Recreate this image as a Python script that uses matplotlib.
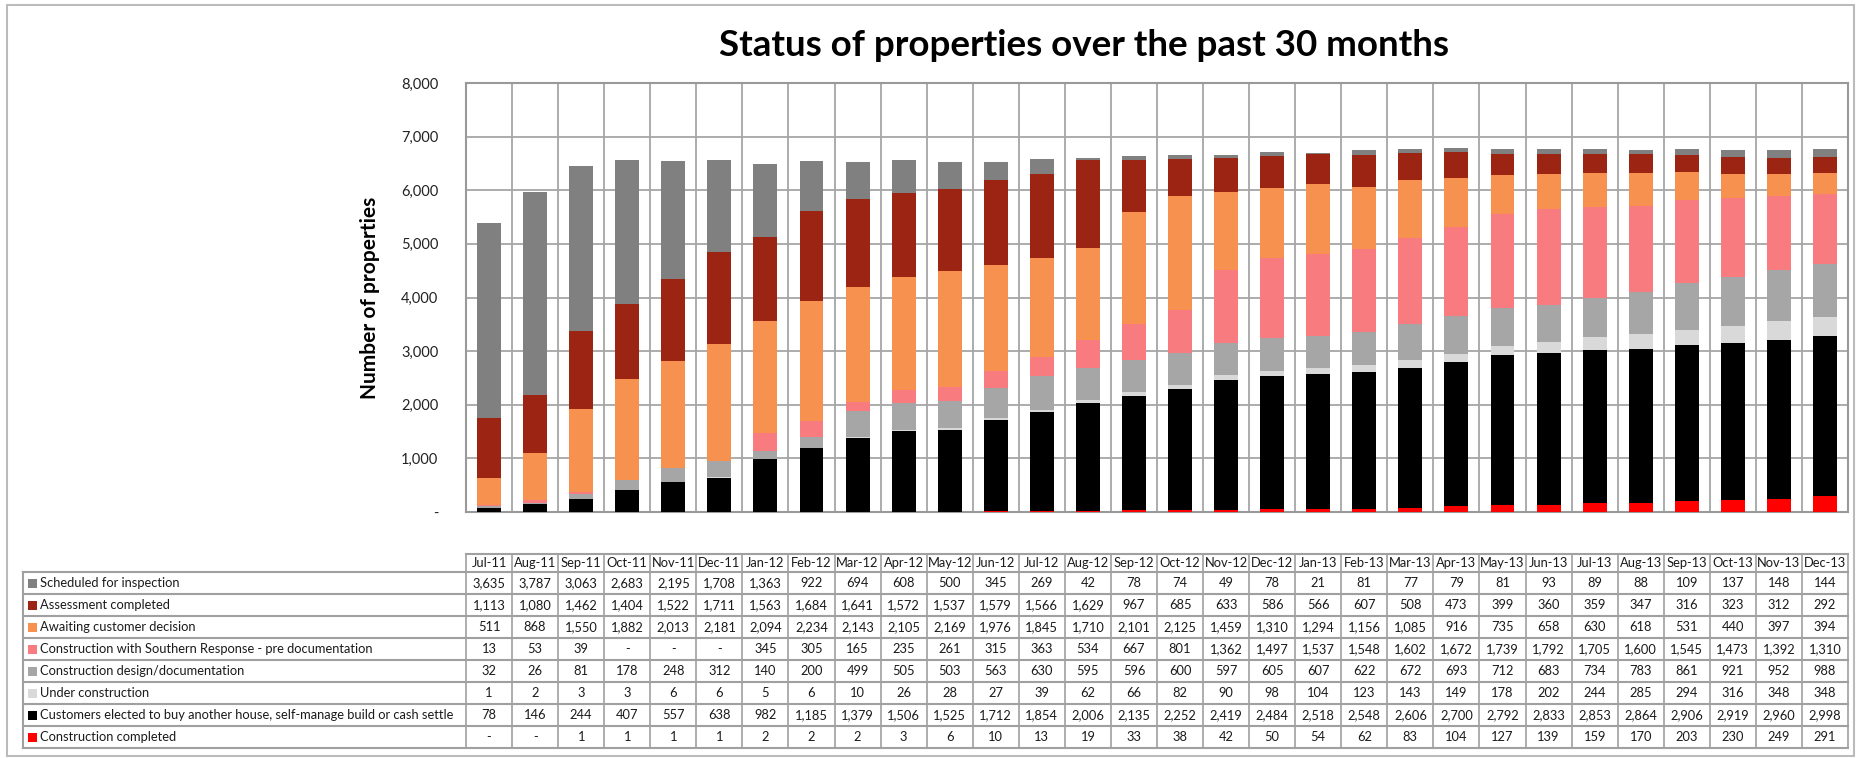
import numpy as np
import matplotlib
matplotlib.use('Agg')
import matplotlib.pyplot as plt
from matplotlib.patches import Rectangle
from matplotlib.ticker import FuncFormatter

months = ['Jul-11', 'Aug-11', 'Sep-11', 'Oct-11', 'Nov-11', 'Dec-11',
          'Jan-12', 'Feb-12', 'Mar-12', 'Apr-12', 'May-12', 'Jun-12',
          'Jul-12', 'Aug-12', 'Sep-12', 'Oct-12', 'Nov-12', 'Dec-12',
          'Jan-13', 'Feb-13', 'Mar-13', 'Apr-13', 'May-13', 'Jun-13',
          'Jul-13', 'Aug-13', 'Sep-13', 'Oct-13', 'Nov-13', 'Dec-13']

scheduled = [3635, 3787, 3063, 2683, 2195, 1708, 1363, 922, 694, 608, 500, 345, 269, 42, 78,
             74, 49, 78, 21, 81, 77, 79, 81, 93, 89, 88, 109, 137, 148, 144]
assessment = [1113, 1080, 1462, 1404, 1522, 1711, 1563, 1684, 1641, 1572, 1537, 1579, 1566, 1629, 967,
              685, 633, 586, 566, 607, 508, 473, 399, 360, 359, 347, 316, 323, 312, 292]
awaiting = [511, 868, 1550, 1882, 2013, 2181, 2094, 2234, 2143, 2105, 2169, 1976, 1845, 1710, 2101,
            2125, 1459, 1310, 1294, 1156, 1085, 916, 735, 658, 630, 618, 531, 440, 397, 394]
sr_pre = [13, 53, 39, 0, 0, 0, 345, 305, 165, 235, 261, 315, 363, 534, 667,
          801, 1362, 1497, 1537, 1548, 1602, 1672, 1739, 1792, 1705, 1600, 1545, 1473, 1392, 1310]
design = [32, 26, 81, 178, 248, 312, 140, 200, 499, 505, 503, 563, 630, 595, 596,
          600, 597, 605, 607, 622, 672, 693, 712, 683, 734, 783, 861, 921, 952, 988]
under = [1, 2, 3, 3, 6, 6, 5, 6, 10, 26, 28, 27, 39, 62, 66,
         82, 90, 98, 104, 123, 143, 149, 178, 202, 244, 285, 294, 316, 348, 348]
customers = [78, 146, 244, 407, 557, 638, 982, 1185, 1379, 1506, 1525, 1712, 1854, 2006, 2135,
             2252, 2419, 2484, 2518, 2548, 2606, 2700, 2792, 2833, 2853, 2864, 2906, 2919, 2960, 2998]
completed = [0, 0, 1, 1, 1, 1, 2, 2, 2, 3, 6, 10, 13, 19, 33,
             38, 42, 50, 54, 62, 83, 104, 127, 139, 159, 170, 203, 230, 249, 291]

# table order (top to bottom) and colours
series_names = ['Scheduled for inspection',
                'Assessment completed',
                'Awaiting customer decision',
                'Construction with Southern Response - pre documentation',
                'Construction design/documentation',
                'Under construction',
                'Customers elected to buy another house, self-manage build or cash settle',
                'Construction completed']
series_vals = [scheduled, assessment, awaiting, sr_pre, design, under, customers, completed]
series_cols = ['#808080', '#9C2412', '#F79150', '#F77B7F', '#A6A6A6', '#D9D9D9', '#000000', '#FF0000']

plt.rcParams['font.family'] = ['Lato', 'DejaVu Sans']

W, H = 1861, 758
fig = plt.figure(figsize=(W / 100, H / 100), dpi=100)

# pixel geometry of the plot area
PL, PR, PT, PB = 466, 1848, 83, 512
ax = fig.add_axes([PL / W, 1 - PB / H, (PR - PL) / W, (PB - PT) / H])

x = np.arange(len(months))
bottom = np.zeros(len(months))
# stack from the bottom: completed first, scheduled on top
for name, vals, col in reversed(list(zip(series_names, series_vals, series_cols))):
    ax.bar(x, vals, width=0.52, bottom=bottom, color=col, label=name, zorder=3)
    bottom += np.array(vals)

grid_col = '#A6A6A6'
ax.set_xlim(-0.5, len(months) - 0.5)
ax.set_ylim(0, 8000)
ax.set_yticks(range(0, 8001, 1000))
ax.yaxis.set_major_formatter(FuncFormatter(lambda v, p: '-' if v == 0 else f'{int(v):,}'))
ax.set_xticks(np.arange(len(months) + 1) - 0.5, minor=True)
ax.set_xticks([])
ax.grid(axis='y', color=grid_col, lw=1.3, zorder=0)
ax.grid(axis='x', which='minor', color=grid_col, lw=1.3, zorder=0)
ax.tick_params(axis='y', length=0, pad=20, labelsize=10.5, labelcolor='#222222')
ax.tick_params(axis='x', which='both', length=0)
for s in ax.spines.values():
    s.set_color('#999999')
    s.set_linewidth(1.5)
ax.set_ylabel('Number of properties', fontsize=15, fontweight='bold', labelpad=15)

fig.text(1084 / W, 1 - 46 / H, 'Status of properties over the past 30 months',
         ha='center', va='center', fontsize=26.5, fontweight='bold')

# --- data table drawn in pixel coordinates ---
tab = fig.add_axes([0, 0, 1, 1], zorder=-1)
tab.set_xlim(0, W)
tab.set_ylim(H, 0)
tab.axis('off')
tab.patch.set_alpha(0)

# outer chart border
tab.add_patch(Rectangle((7, 5), 1847, 751, fill=False, ec='#BBBBBB', lw=1.5))

line_col = '#A0A0A0'
head_top, head_bot = 554, 572
row_h = 22.0
n_rows = len(series_names)
col_w = (PR - PL) / len(months)
lab_left = 23
fs = 9.3

tab_bot = head_bot + n_rows * row_h
# header row
tab.plot([PL, PR], [head_top, head_top], color=line_col, lw=1.5)
for i in range(len(months) + 1):
    cx = PL + i * col_w
    tab.plot([cx, cx], [head_top, tab_bot], color=line_col, lw=1.2)
for i, m in enumerate(months):
    tab.text(PL + (i + 0.5) * col_w, (head_top + head_bot) / 2, m,
             ha='center', va='center', fontsize=fs, color='#1a1a1a')
# body rows
for r in range(n_rows + 1):
    yy = head_bot + r * row_h
    tab.plot([lab_left, PR], [yy, yy], color=line_col, lw=1.5)
tab.plot([lab_left, lab_left], [head_bot, tab_bot], color=line_col, lw=1.5)
for r, (name, vals, col) in enumerate(zip(series_names, series_vals, series_cols)):
    yc = head_bot + (r + 0.5) * row_h
    tab.add_patch(Rectangle((lab_left + 5, yc - 4.5), 9, 9, color=col, lw=0))
    tab.text(lab_left + 17, yc, name, ha='left', va='center', fontsize=fs, color='#1a1a1a')
    for i, v in enumerate(vals):
        tab.text(PL + (i + 0.5) * col_w, yc, '-' if v == 0 else f'{v:,}',
                 ha='center', va='center', fontsize=fs, color='#1a1a1a')

fig.savefig('out.png', dpi=100)
